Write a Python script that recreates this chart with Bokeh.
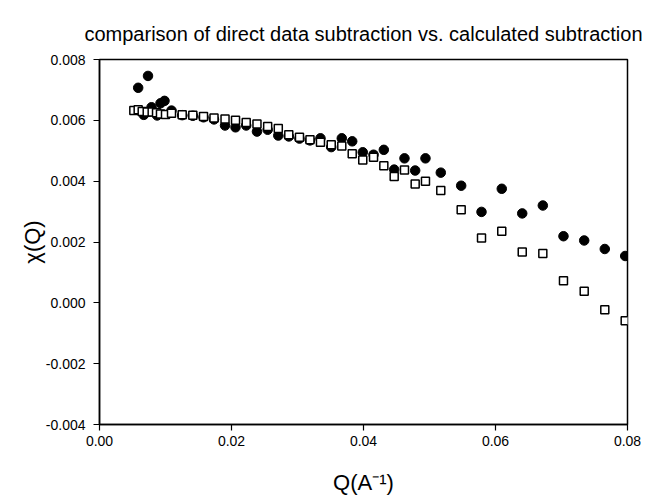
from bokeh.plotting import figure
from bokeh.models import FixedTicker, NumeralTickFormatter, Range1d
from bokeh.embed import file_html
from bokeh.resources import INLINE

# Direct data subtraction (filled circles)
q_direct = [0.00586, 0.00671, 0.00735, 0.00788, 0.00874, 0.00924, 0.00985, 0.01091,
            0.01253, 0.01414, 0.01576, 0.01735, 0.01902, 0.02061, 0.02223, 0.02386,
            0.02548, 0.02709, 0.02868, 0.03030, 0.03189, 0.03348, 0.03511, 0.03671,
            0.03829, 0.03989, 0.04152, 0.04308, 0.04465, 0.04621, 0.04783, 0.04939,
            0.05171, 0.05480, 0.05788, 0.06095, 0.06405, 0.06717, 0.07030, 0.07344,
            0.07656, 0.07965]
chi_direct = [0.00707, 0.00618, 0.00746, 0.00643, 0.00616, 0.00656, 0.00664, 0.00632,
              0.00617, 0.00615, 0.00610, 0.00603, 0.00583, 0.00577, 0.00583, 0.00563,
              0.00569, 0.00550, 0.00547, 0.00540, 0.00534, 0.00541, 0.00512, 0.00541,
              0.00531, 0.00495, 0.00487, 0.00503, 0.00438, 0.00475, 0.00435, 0.00475,
              0.00428, 0.00385, 0.00299, 0.00375, 0.00294, 0.00320, 0.00219, 0.00205,
              0.00177, 0.00154]

# Calculated subtraction (open squares)
q_calc = [0.00520, 0.00586, 0.00647, 0.00723, 0.00798, 0.00864, 0.00924, 0.01000,
          0.01091, 0.01253, 0.01414, 0.01576, 0.01735, 0.01902, 0.02061, 0.02223,
          0.02386, 0.02548, 0.02709, 0.02868, 0.03030, 0.03189, 0.03348, 0.03511,
          0.03671, 0.03829, 0.03989, 0.04152, 0.04308, 0.04465, 0.04621, 0.04783,
          0.04939, 0.05171, 0.05480, 0.05788, 0.06095, 0.06405, 0.06717, 0.07030,
          0.07344, 0.07656, 0.07965]
chi_calc = [0.00632, 0.00635, 0.00629, 0.00627, 0.00627, 0.00625, 0.00621, 0.00619,
            0.00623, 0.00618, 0.00617, 0.00613, 0.00608, 0.00604, 0.00600, 0.00593,
            0.00588, 0.00580, 0.00573, 0.00553, 0.00544, 0.00536, 0.00528, 0.00520,
            0.00516, 0.00490, 0.00470, 0.00479, 0.00451, 0.00415, 0.00437, 0.00391,
            0.00400, 0.00369, 0.00306, 0.00213, 0.00235, 0.00167, 0.00162, 0.00073,
            0.00038, -0.00023, -0.00059]

x_ticks = [0.00, 0.02, 0.04, 0.06, 0.08]
y_ticks = [-0.004, -0.002, 0.000, 0.002, 0.004, 0.006, 0.008]

title_text = "comparison of direct data subtraction vs. calculated subtraction"
x_label = "Q(A\u207b\u00b9)"
y_label = "\u03c7(Q)"

FONT = "Liberation Sans"

p = figure(width=649, height=500, output_backend="svg", toolbar_location=None,
           x_range=Range1d(0.0, 0.08), y_range=Range1d(-0.004, 0.008),
           min_border_left=99, min_border_right=22, min_border_top=59,
           min_border_bottom=76, title=title_text)

p.title.text_font = FONT
p.title.text_font_size = "20px"
p.title.text_font_style = "normal"
p.title.text_color = "black"
p.title.align = "center"
p.title.standoff = 30

p.xgrid.visible = False
p.ygrid.visible = False
p.outline_line_color = "black"
p.outline_line_width = 1.5
p.background_fill_color = "white"
p.border_fill_color = "white"

for ax in (p.xaxis[0], p.yaxis[0]):
    ax.axis_line_color = "black"
    ax.axis_line_width = 1.5
    ax.major_tick_line_color = "black"
    ax.major_tick_line_width = 1.2
    ax.major_tick_out = 6
    ax.major_tick_in = 0
    ax.minor_tick_line_color = None
    ax.major_label_text_font = FONT
    ax.major_label_text_font_size = "14px"
    ax.major_label_text_color = "black"
    ax.axis_label_text_font = FONT
    ax.axis_label_text_font_size = "22px"
    ax.axis_label_text_font_style = "normal"
    ax.axis_label_text_color = "black"

p.xaxis[0].ticker = FixedTicker(ticks=x_ticks)
p.xaxis[0].formatter = NumeralTickFormatter(format="0.00")
p.xaxis[0].major_label_standoff = 5
p.xaxis[0].axis_label = x_label
p.xaxis[0].axis_label_standoff = 21

p.yaxis[0].ticker = FixedTicker(ticks=y_ticks)
p.yaxis[0].formatter = NumeralTickFormatter(format="0.000")
p.yaxis[0].major_label_standoff = 8
p.yaxis[0].axis_label = y_label
p.yaxis[0].axis_label_standoff = -2

p.scatter(q_direct, chi_direct, marker="circle", size=9.5,
          fill_color="black", line_color="black")
p.scatter(q_calc, chi_calc, marker="square", size=8,
          fill_color="white", line_color="black", line_width=1.5)

open("out.html", "w").write(file_html(p, INLINE))
